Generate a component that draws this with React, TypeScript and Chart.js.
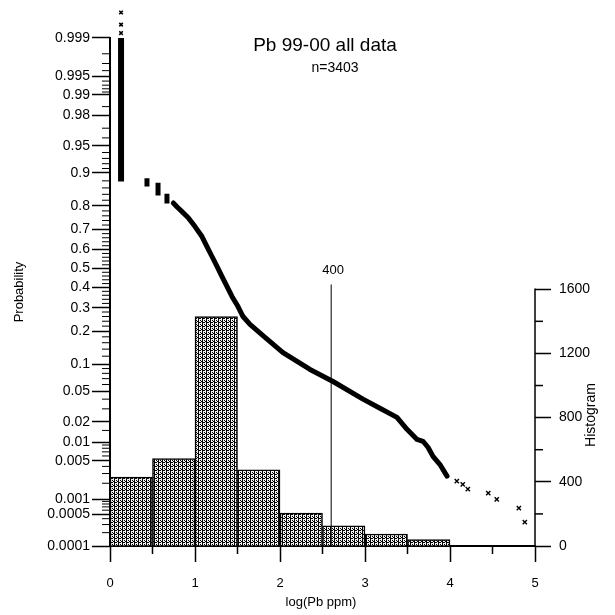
import { useEffect, useRef } from 'react';
import { Chart, registerables } from 'chart.js';

Chart.register(...registerables);

const FONT = '"Liberation Sans", Arial, Helvetica, sans-serif';

// ---- Histogram (right axis, counts per 0.5 log-unit bin) ----
const binCenters = [0.25, 0.75, 1.25, 1.75, 2.25, 2.75, 3.25, 3.75];
const binCounts = [430, 545, 1430, 475, 205, 125, 75, 40];

// ---- Probability plot (left axis) ----
// tied values: vertical stacks of points at one concentration
const tieX = [0.13, 0.435, 0.565, 0.67];
const tieHighP = [0.999, 0.887, 0.875, 0.842];
const tieLowP = [0.878, 0.864, 0.836, 0.808];

// isolated highest points above the detection-limit stack
const stackTopX = [0.13, 0.13, 0.13];
const stackTopP = [0.9992, 0.99946, 0.9997];

// continuous part of the cumulative curve
const curveX = [0.745, 0.79, 0.847, 0.918, 1.0, 1.082, 1.141, 1.2, 1.259, 1.318, 1.376, 1.435, 1.506, 1.565, 1.647, 1.824, 2.035, 2.353, 2.624, 2.976, 3.176, 3.376, 3.494, 3.612, 3.682, 3.741, 3.8, 3.882, 3.965];
const curveP = [0.81, 0.795, 0.777, 0.753, 0.713, 0.666, 0.616, 0.564, 0.511, 0.457, 0.405, 0.354, 0.305, 0.26, 0.227, 0.178, 0.13, 0.088, 0.065, 0.04, 0.0305, 0.023, 0.0156, 0.011, 0.0103, 0.0083, 0.0059, 0.0043, 0.0027];

// sparse high-value tail
const tailX = [4.08, 4.15, 4.21, 4.45, 4.55, 4.81, 4.88];
const tailP = [0.00218, 0.00191, 0.00155, 0.0013, 0.00099, 0.00066, 0.00034];

// 400 ppm marker
const markerPpm = 400;
const markerLabel = '400';

// ---- Axes ----
const probTicks = [0.0001, 0.0005, 0.001, 0.005, 0.01, 0.02, 0.05, 0.1, 0.2, 0.3, 0.4, 0.5, 0.6, 0.7, 0.8, 0.9, 0.95, 0.98, 0.99, 0.995, 0.999];
const probTickLabels = ['0.0001', '0.0005', '0.001', '0.005', '0.01', '0.02', '0.05', '0.1', '0.2', '0.3', '0.4', '0.5', '0.6', '0.7', '0.8', '0.9', '0.95', '0.98', '0.99', '0.995', '0.999'];
const probMinorTicks = [0.0002, 0.0003, 0.0004, 0.0006, 0.0007, 0.0008, 0.0009, 0.002, 0.003, 0.004, 0.006, 0.007, 0.008, 0.009, 0.015, 0.03, 0.04, 0.06, 0.07, 0.08, 0.09, 0.12, 0.14, 0.16, 0.18, 0.22, 0.24, 0.26, 0.28, 0.32, 0.34, 0.36, 0.38, 0.42, 0.44, 0.46, 0.48, 0.52, 0.54, 0.56, 0.58, 0.62, 0.64, 0.66, 0.68, 0.72, 0.74, 0.76, 0.78, 0.82, 0.84, 0.86, 0.88, 0.91, 0.92, 0.93, 0.94, 0.96, 0.97, 0.985, 0.991, 0.992, 0.993, 0.994, 0.996, 0.997, 0.998];
const histTicks = [0, 400, 800, 1200, 1600];
const histMinorTicks = [200, 600, 1000, 1400];
const xTicks = [0, 1, 2, 3, 4, 5];
const xMinorTicks = [0.5, 1.5, 2.5, 3.5, 4.5];

const titleText = 'Pb 99-00 all data';
const subtitleText = 'n=3403';
const xTitle = 'log(Pb ppm)';
const yTitle = 'Probability';
const y2Title = 'Histogram';

// inverse standard normal CDF (probability-paper transform)
function probit(p: number): number {
  const a = [-39.69683028665376, 220.9460984245205, -275.9285104469687, 138.357751867269, -30.66479806614716, 2.506628277459239];
  const b = [-54.47609879822406, 161.5858368580409, -155.6989798598866, 66.80131188771972, -13.28068155288572];
  const c = [-0.007784894002430293, -0.3223964580411365, -2.400758277161838, -2.549732539343734, 4.374664141464968, 2.938163982698783];
  const d = [0.007784695709041462, 0.3224671290700398, 2.445134137142996, 3.754408661907416];
  const pl = 0.02425;
  if (p < pl) {
    const q = Math.sqrt(-2 * Math.log(p));
    return (((((c[0] * q + c[1]) * q + c[2]) * q + c[3]) * q + c[4]) * q + c[5]) / ((((d[0] * q + d[1]) * q + d[2]) * q + d[3]) * q + 1);
  }
  if (p > 1 - pl) {
    const q = Math.sqrt(-2 * Math.log(1 - p));
    return -(((((c[0] * q + c[1]) * q + c[2]) * q + c[3]) * q + c[4]) * q + c[5]) / ((((d[0] * q + d[1]) * q + d[2]) * q + d[3]) * q + 1);
  }
  const q = p - 0.5;
  const r = q * q;
  return (((((a[0] * r + a[1]) * r + a[2]) * r + a[3]) * r + a[4]) * r + a[5]) * q / (((((b[0] * r + b[1]) * r + b[2]) * r + b[3]) * r + b[4]) * r + 1);
}

// stippled grey fill like the printed histogram
function makePattern(): CanvasPattern | string {
  const tile = ['X.X.', '.XX.', 'X.XX', '..X.'];
  const c = document.createElement('canvas');
  c.width = 4;
  c.height = 4;
  const g = c.getContext('2d');
  if (!g) return '#888';
  g.fillStyle = '#f2f2f2';
  g.fillRect(0, 0, 4, 4);
  g.fillStyle = '#000';
  tile.forEach((row, yy) => {
    for (let xx = 0; xx < row.length; xx++) if (row[xx] === 'X') g.fillRect(xx, yy, 1, 1);
  });
  return g.createPattern(c, 'repeat') || '#888';
}

const decorPlugin = {
  id: 'decor',
  afterDraw(chart: any) {
    const { ctx, chartArea, scales } = chart;
    const sx = scales.x;
    const sy = scales.y;
    const sh = scales.y2;
    const L = chartArea.left;
    const R = chartArea.right;
    const B = chartArea.bottom;
    ctx.save();
    ctx.strokeStyle = '#000';
    ctx.lineCap = 'butt';
    const seg = (x1: number, y1: number, x2: number, y2: number, w: number) => {
      ctx.lineWidth = w;
      ctx.beginPath();
      ctx.moveTo(x1, y1);
      ctx.lineTo(x2, y2);
      ctx.stroke();
    };
    // left probability axis line (0.0001 .. 0.999)
    seg(L, sy.getPixelForValue(probit(probTicks[0])) + 1, L, sy.getPixelForValue(probit(probTicks[probTicks.length - 1])) - 1, 2);
    probMinorTicks.forEach((p) => {
      const yy = sy.getPixelForValue(probit(p));
      seg(L - 8, yy, L, yy, 1);
    });
    // right histogram axis (0 .. 1600)
    seg(R, sh.getPixelForValue(histTicks[0]), R, sh.getPixelForValue(histTicks[histTicks.length - 1]) - 0.75, 1.5);
    histMinorTicks.forEach((v) => {
      const yy = sh.getPixelForValue(v);
      seg(R, yy, R + 8, yy, 1.5);
    });
    xMinorTicks.forEach((v) => {
      const xx = sx.getPixelForValue(v);
      seg(xx, B, xx, B + 8, 1.5);
    });

    // texts
    ctx.fillStyle = '#000';
    ctx.textAlign = 'center';
    ctx.textBaseline = 'middle';
    ctx.font = `19px ${FONT}`;
    ctx.fillText(titleText, 325, 46);
    ctx.font = `14px ${FONT}`;
    ctx.fillText(subtitleText, 335, 68);
    ctx.font = `13px ${FONT}`;
    const mx = sx.getPixelForValue(Math.log10(markerPpm));
    ctx.fillText(markerLabel, mx + 2, sh.getPixelForValue(1630) - 14);
    ctx.fillText(xTitle, 321, 602);
    ctx.save();
    ctx.translate(19, 292);
    ctx.rotate(-Math.PI / 2);
    ctx.fillText(yTitle, 0, 0);
    ctx.restore();
    ctx.save();
    ctx.font = `14px ${FONT}`;
    ctx.translate(591, 415);
    ctx.rotate(-Math.PI / 2);
    ctx.fillText(y2Title, 0, 0);
    ctx.restore();
    ctx.restore();
  },
};

export default function App() {
  const ref = useRef<HTMLCanvasElement | null>(null);

  useEffect(() => {
    if (!ref.current) return;
    const pattern = makePattern();
    const lineBase = { type: 'line' as const, yAxisID: 'y', borderColor: '#000', pointRadius: 0, fill: false, tension: 0, order: 1 };

    const tieSets = tieX.map((x, i) => ({
      ...lineBase,
      borderWidth: i === 0 ? 6 : 5,
      borderCapStyle: 'butt',
      data: [{ x, y: probit(tieHighP[i]) }, { x, y: probit(tieLowP[i]) }],
    }));

    const chart = new Chart(ref.current, {
      type: 'scatter',
      data: {
        datasets: [
          ...tieSets,
          {
            ...lineBase,
            borderWidth: 5,
            borderJoinStyle: 'round',
            borderCapStyle: 'round',
            data: curveX.map((x, i) => ({ x, y: probit(curveP[i]) })),
          },
          {
            ...lineBase,
            showLine: false,
            pointRadius: 2.5,
            pointStyle: 'crossRot',
            pointBorderWidth: 1.6,
            pointBorderColor: '#000',
            data: stackTopX.map((x, i) => ({ x, y: probit(stackTopP[i]) })),
          },
          {
            ...lineBase,
            showLine: false,
            pointRadius: 3,
            pointStyle: 'crossRot',
            pointBorderWidth: 1.4,
            pointBorderColor: '#000',
            data: tailX.map((x, i) => ({ x, y: probit(tailP[i]) })),
          },
          {
            type: 'line',
            yAxisID: 'y2',
            borderColor: '#000',
            borderWidth: 1,
            pointRadius: 0,
            order: 1,
            data: [{ x: Math.log10(markerPpm), y: 0 }, { x: Math.log10(markerPpm), y: 1630 }],
          },
          {
            type: 'bar',
            yAxisID: 'y2',
            backgroundColor: pattern as any,
            borderColor: '#000',
            borderWidth: 1.5,
            barPercentage: 1,
            categoryPercentage: 1,
            order: 10,
            data: binCenters.map((x, i) => ({ x, y: binCounts[i] })),
          },
        ] as any,
      },
      options: {
        animation: false,
        responsive: false,
        events: [],
        layout: { padding: { top: 10, left: 0, right: 0, bottom: 0 } },
        plugins: { legend: { display: false }, tooltip: { enabled: false }, title: { display: false } },
        scales: {
          x: {
            type: 'linear',
            position: 'bottom',
            min: 0,
            max: 5,
            offset: false,
            afterBuildTicks: (s: any) => { s.ticks = xTicks.map((v) => ({ value: v })); },
            afterFit: (s: any) => { s.height = 69; s.paddingLeft = 0; s.paddingRight = 0; },
            grid: { drawOnChartArea: false, offset: false, tickLength: 16, tickWidth: 1.5, tickColor: '#000' },
            border: { display: true, color: '#000', width: 2 },
            ticks: { color: '#000', font: { family: FONT, size: 13 }, padding: 14, maxRotation: 0, autoSkip: false, callback: (v: any) => String(v) },
          },
          y: {
            type: 'linear',
            position: 'left',
            min: probit(0.0001),
            max: 3.465,
            afterBuildTicks: (s: any) => { s.ticks = probTicks.map((p) => ({ value: probit(p) })); },
            afterFit: (s: any) => { s.width = 110; s.paddingTop = 0; s.paddingBottom = 0; },
            grid: { drawOnChartArea: false, tickLength: 18, tickWidth: 1.5, tickColor: '#000' },
            border: { display: false },
            ticks: { color: '#000', font: { family: FONT, size: 14 }, padding: 2, autoSkip: false, callback: (_v: any, i: number) => probTickLabels[i] },
          },
          y2: {
            type: 'linear',
            position: 'right',
            min: 0,
            max: 3340,
            afterBuildTicks: (s: any) => { s.ticks = histTicks.map((v) => ({ value: v })); },
            afterFit: (s: any) => { s.width = 80; s.paddingTop = 0; s.paddingBottom = 0; },
            grid: { drawOnChartArea: false, tickLength: 16, tickWidth: 1.5, tickColor: '#000' },
            border: { display: false },
            ticks: { color: '#000', font: { family: FONT, size: 14 }, padding: 8, autoSkip: false, callback: (v: any) => String(v) },
          },
        },
      } as any,
      plugins: [decorPlugin],
    });
    return () => chart.destroy();
  }, []);

  return (
    <canvas
      ref={ref}
      width={615}
      height={615}
      style={{ display: 'block', position: 'absolute', left: 0, top: 0, width: 615, height: 615 }}
    />
  );
}
